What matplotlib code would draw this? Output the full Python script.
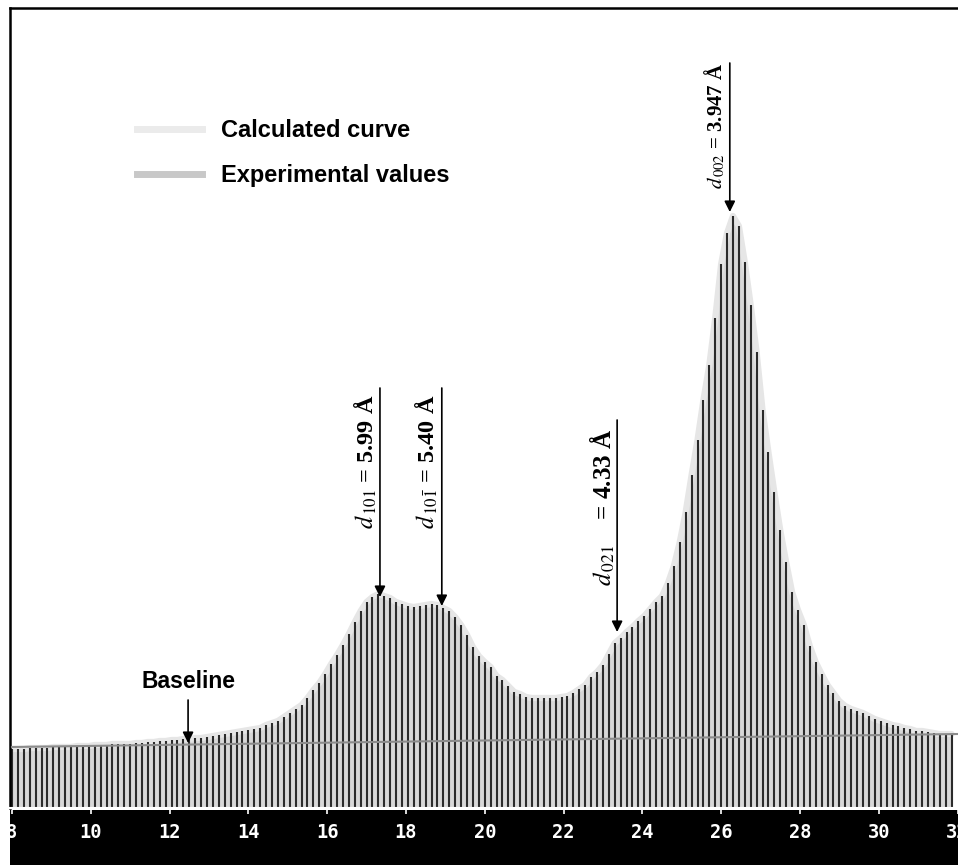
import numpy as np
import matplotlib.pyplot as plt
from matplotlib.lines import Line2D
from matplotlib.patches import Rectangle

# ============================================================
# Data (2-theta in degrees, intensity in arbitrary units)
# ============================================================

two_theta = np.arange(160) * 0.15 + 8.0

intensity = [
    59, 59, 59, 60, 60, 60, 60, 61, 61, 61,
    61, 62, 62, 62, 63, 63, 63, 64, 64, 64,
    64, 65, 65, 66, 66, 67, 67, 68, 68, 69,
    69, 70, 70, 71, 72, 73, 74, 75, 76, 77,
    78, 79, 80, 83, 85, 87, 91, 95, 99, 103,
    110, 118, 125, 134, 144, 153, 163, 174, 186, 197,
    206, 211, 214, 212, 210, 206, 204, 202, 201, 202,
    203, 204, 203, 200, 197, 191, 183, 173, 161, 152,
    146, 141, 132, 128, 122, 116, 114, 111, 110, 110,
    110, 110, 110, 111, 112, 115, 119, 123, 131, 136,
    143, 154, 165, 170, 176, 181, 187, 192, 199, 206,
    212, 225, 242, 266, 296, 333, 368, 408, 443, 490,
    544, 575, 592, 582, 546, 503, 456, 398, 356, 316,
    278, 246, 216, 198, 183, 162, 146, 134, 123, 115,
    107, 102, 99, 97, 95, 92, 89, 87, 85, 83,
    82, 80, 79, 77, 77, 76, 75, 74, 74, 74,
]

baseline_x = [8.0, 32.0]
baseline_y = [61, 74]

xticks = [8, 10, 12, 14, 16, 18, 20, 22, 24, 26, 28, 30, 32]

# peak labels: position, arrow top, arrow tip, label, label centre, size
peaks_x = [17.34, 18.91, 23.36, 26.22]
peaks_top = [420, 420, 388, 745]
peaks_tip = [211, 202, 176, 596]
peaks_label = [
    r"$d_{\,101}$ = 5.99 Å",
    r"$d_{\,10\bar{1}}$ = 5.40 Å",
    r"$d_{\,021}$    = 4.33 Å",
    r"$d_{\,002}$ = 3.947 Å",
]
peaks_text_y = [346, 346, 301, 682]
peaks_size = [17.5, 17.5, 18, 15]

plt.rcParams['mathtext.fontset'] = 'stix'

# ============================================================
# Figure
# ============================================================

W, H = 958, 865
fig = plt.figure(figsize=(W / 100, H / 100), dpi=100)
fig.patch.set_facecolor("white")

# black strip under the axis
fig.add_artist(Rectangle((10 / W, 0), 1, 55 / H, transform=fig.transFigure,
                         facecolor="black", edgecolor="none", zorder=0))

ax = fig.add_axes([10 / W, 57 / H, 949.5 / W, 800 / H])
ax.set_xlim(7.95, 32.05)
ax.set_ylim(0, 800)

# calculated curve (envelope) + fill
ax.fill_between(two_theta, intensity, color="#d8d8d8", lw=0, zorder=1)
ax.plot(two_theta, intensity, color="#e6e6e6", lw=4.5, solid_capstyle="round", zorder=1.5)

# experimental values as sticks
ax.vlines(two_theta, 0, intensity, color="#2b2b2b", lw=1.5, zorder=2)

# baseline
ax.plot(baseline_x, baseline_y, color="#8c8c8c", lw=1.5, zorder=3)

# ------------------------------------------------------------
# Axis styling
# ------------------------------------------------------------
ax.set_yticks([])
ax.set_xticks(xticks)
ax.set_xticklabels([str(t) for t in xticks], color="white",
                   fontfamily="DejaVu Sans Mono", fontweight="bold", fontsize=13.5)
ax.tick_params(axis="x", direction="out", length=4.5, width=1.2, color="white", pad=6)
ax.spines["right"].set_visible(False)
ax.spines["bottom"].set_color("white")
ax.spines["bottom"].set_linewidth(1.5)
ax.spines["top"].set_linewidth(1.8)
ax.spines["left"].set_linewidth(1.8)

# ------------------------------------------------------------
# Annotations
# ------------------------------------------------------------
for px, top, tip, lab, ty, fs in zip(peaks_x, peaks_top, peaks_tip,
                                      peaks_label, peaks_text_y, peaks_size):
    ax.annotate("", xy=(px, tip), xytext=(px, top),
                arrowprops=dict(arrowstyle="-|>", color="black", lw=1.2,
                                mutation_scale=16, shrinkA=0, shrinkB=0))
    ax.text(px - 0.37, ty, lab, rotation=90, ha="center", va="center",
            fontfamily="Liberation Serif", fontweight="bold", fontsize=fs)

ax.annotate("", xy=(12.47, 65), xytext=(12.47, 108),
            arrowprops=dict(arrowstyle="-|>", color="black", lw=1.2,
                            mutation_scale=16, shrinkA=0, shrinkB=0))
ax.text(12.47, 127, "Baseline", ha="center", va="center",
        fontfamily="Liberation Sans", fontweight="bold", fontsize=16.5)

# legend
handles = [Line2D([], [], color="#ebebeb", lw=5),
           Line2D([], [], color="#c8c8c8", lw=5)]
fig.legend(handles, ["Calculated curve", "Experimental values"],
           loc="upper left", bbox_to_anchor=(137 / W, 1 - 119 / H),
           frameon=False, borderpad=0, borderaxespad=0,
           handlelength=2.75, handletextpad=0.8, labelspacing=0.95,
           prop={"family": "Liberation Sans", "weight": "bold", "size": 17})

fig.savefig("out.png", dpi=100, facecolor="white")
